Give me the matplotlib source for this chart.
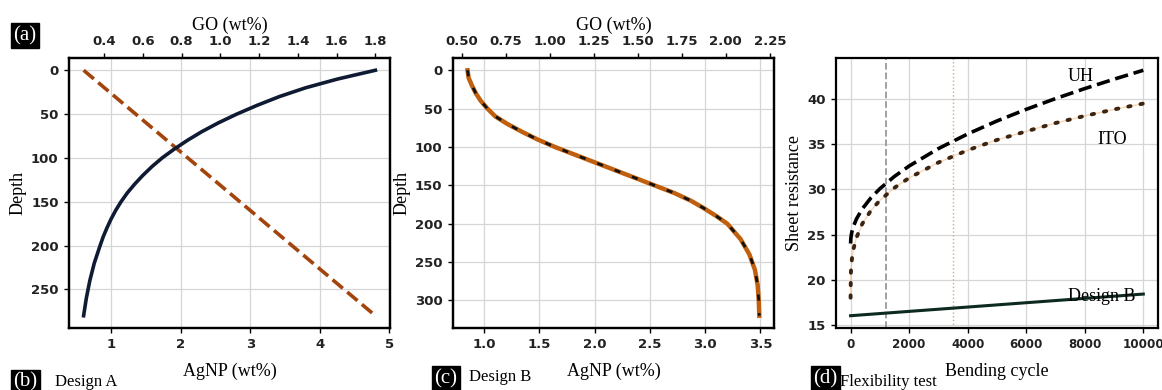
import matplotlib.pyplot as plt

# ---- data ----
# Design A
depth_a = [0, 280]
agnp_a = [0.6, 4.8]
depth_a_go = [0, 10, 20, 30, 40, 50, 60, 70, 80, 90, 100, 110, 120, 130, 140,
              150, 160, 170, 180, 190, 200, 220, 240, 260, 280]
go_a = [1.80, 1.605, 1.44, 1.305, 1.19, 1.085, 0.99, 0.905, 0.83, 0.762,
        0.70, 0.647, 0.60, 0.558, 0.52, 0.488, 0.46, 0.436, 0.415, 0.396,
        0.38, 0.35, 0.327, 0.309, 0.295]

# Design B
depth_b = [0, 10, 20, 30, 40, 50, 60, 70, 80, 90, 100, 110, 120, 130, 140,
           150, 160, 170, 180, 190, 200, 220, 240, 260, 280, 300, 320]
agnp_b = [0.85, 0.86, 0.89, 0.925, 0.97, 1.03, 1.10, 1.21, 1.34, 1.48, 1.64,
          1.82, 2.00, 2.18, 2.36, 2.54, 2.72, 2.87, 2.99, 3.10, 3.20, 3.32,
          3.40, 3.45, 3.475, 3.485, 3.49]

# Flexibility test
cycles = [0, 10, 25, 50, 100, 200, 400, 700, 1000, 1500, 2000, 3000, 4000,
          5000, 6000, 7000, 8000, 9000, 10000]
uh = [24.0, 24.6, 24.96, 25.36, 25.92, 26.72, 27.84, 29.08, 30.07, 31.44,
      32.59, 34.52, 36.14, 37.58, 38.87, 40.06, 41.17, 42.21, 43.2]
ito = [18.0, 20.7, 21.56, 22.39, 23.4, 24.65, 26.19, 27.68, 28.78, 30.18,
       31.27, 32.98, 34.34, 35.48, 36.43, 37.35, 38.14, 38.86, 39.51]
design_b_cycles = [0, 10000]
design_b_res = [16.0, 18.4]
marker_cycles = [1200, 3500]

serif = "Liberation Serif"
grid_c = "#d6d6d6"


def style(ax, size=9.5):
    ax.grid(True, color=grid_c, lw=0.9)
    ax.set_axisbelow(True)
    for s in ax.spines.values():
        s.set_linewidth(1.6)
        s.set_color("black")
    ax.tick_params(labelsize=size, length=3.5, width=1, pad=4, colors="black")
    for lab in ax.get_xticklabels() + ax.get_yticklabels():
        lab.set_fontweight("bold")
        lab.set_color("#222222")


fig = plt.figure(figsize=(11.62, 3.9), dpi=100)

# ---- panel A ----
ax1 = fig.add_axes([0.0594, 0.159, 0.2762, 0.6923])
ax1.plot(agnp_a, depth_a, color="#a3440c", lw=2.6, ls="--")
ax1.invert_yaxis()
ax1.set_xticks([1, 2, 3, 4, 5])
ax1.set_yticks([0, 50, 100, 150, 200, 250])
ax1.set_xlabel("AgNP (wt%)", family=serif, fontsize=13, labelpad=8)
ax1.set_ylabel("Depth", family=serif, fontsize=13, labelpad=3)
style(ax1)
ax1t = ax1.twiny()
ax1t.plot(go_a, depth_a_go, color="#0f1a33", lw=2.6)
ax1t.set_xticks([0.4, 0.6, 0.8, 1.0, 1.2, 1.4, 1.6, 1.8])
ax1t.set_xlabel("GO (wt%)", family=serif, fontsize=13, labelpad=3)
style(ax1t)
ax1t.grid(False)
ax1.set_xlim(0.39, 5.01)

# ---- panel B ----
ax2 = fig.add_axes([0.3898, 0.159, 0.2762, 0.6923])
ax2.plot(agnp_b, depth_b, color="#c0600f", lw=3.2)
ax2.plot(agnp_b, depth_b, color="#111111", lw=2.0, dashes=(2.2, 4.5))
ax2.invert_yaxis()
ax2.set_xticks([1.0, 1.5, 2.0, 2.5, 3.0, 3.5])
ax2.set_yticks([0, 50, 100, 150, 200, 250, 300])
ax2.set_xlabel("AgNP (wt%)", family=serif, fontsize=13, labelpad=8)
ax2.set_ylabel("Depth", family=serif, fontsize=13, labelpad=3)
style(ax2)
ax2t = ax2.twiny()
ax2t.set_xlim(0.451, 2.273)
ax2t.set_xticks([0.5, 0.75, 1.0, 1.25, 1.5, 1.75, 2.0, 2.25])
ax2t.set_xticklabels(["0.50", "0.75", "1.00", "1.25", "1.50", "1.75",
                      "2.00", "2.25"])
ax2t.set_xlabel("GO (wt%)", family=serif, fontsize=13, labelpad=3)
style(ax2t)
ax2t.grid(False)

# ---- panel C ----
ax3 = fig.add_axes([0.7194, 0.159, 0.2771, 0.6923])
ax3.axvline(marker_cycles[0], color="#9a9a9a", lw=1.3, ls="--")
ax3.axvline(marker_cycles[1], color="#d9a77a", lw=1.0, ls=":")
ax3.plot(cycles, uh, color="black", lw=2.6, ls="--")
ax3.plot(cycles, ito, color="#f0b070", lw=1.0, alpha=0.5)
ax3.plot(cycles, ito, color="#3d2410", lw=2.8, dashes=(0.6, 2.6),
         dash_capstyle="round")
ax3.plot(design_b_cycles, design_b_res, color="#0d2a1e", lw=2.2)
ax3.set_xticks([0, 2000, 4000, 6000, 8000, 10000])
ax3.set_yticks([15, 20, 25, 30, 35, 40])
ax3.set_xlabel("Bending cycle", family=serif, fontsize=13, labelpad=8)
ax3.set_ylabel("Sheet resistance", family=serif, fontsize=13, labelpad=3)
ax3.text(7850, 42.5, "UH", family=serif, fontsize=13, ha="center", va="center")
ax3.text(8950, 35.5, "ITO", family=serif, fontsize=13, ha="center", va="center")
ax3.text(8580, 18.1, "Design B", family=serif, fontsize=13, ha="center",
         va="center")
style(ax3)
ax3.tick_params(axis="x", labelsize=8.6)


# ---- panel tags ----
def tag(x, y, s):
    fig.text(x, y, s, family=serif, fontsize=15, color="white", ha="left",
             va="bottom", bbox=dict(facecolor="black", edgecolor="black",
                                    pad=1.8))


tag(13 / 1162, 1 - 45 / 390, "(a)")
tag(13 / 1162, -0.005, "(b)")
tag(434 / 1162, 0.005, "(c)")
tag(813 / 1162, 0.005, "(d)")
fig.text(55 / 1162, 1 - 382 / 390, "Design A", family=serif, fontsize=12,
         va="center")
fig.text(469 / 1162, 1 - 377 / 390, "Design B", family=serif, fontsize=12,
         va="center")
fig.text(840 / 1162, 1 - 382 / 390, "Flexibility test", family=serif,
         fontsize=12, va="center")

plt.savefig("out.png", dpi=100)
